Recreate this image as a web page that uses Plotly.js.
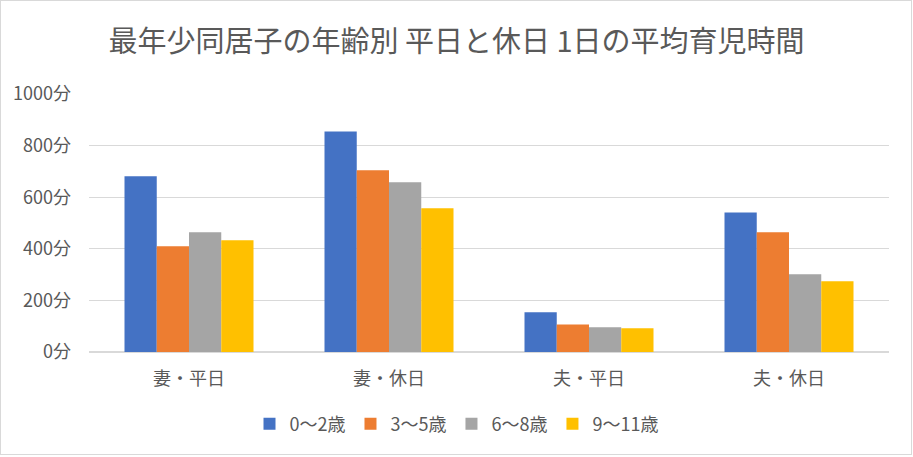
<!DOCTYPE html>
<html>
<head>
<meta charset="utf-8">
<script src="https://cdn.plot.ly/plotly-3.0.1.min.js"></script>
<style>
html,body{margin:0;padding:0;background:#fff;}
#chart{position:absolute;left:0;top:0;width:913px;height:457px;}
#frame{position:absolute;left:0;top:0;width:912px;height:455px;box-sizing:border-box;border:1px solid #D9D9D9;pointer-events:none;}
</style>
</head>
<body>
<div id="chart"></div>
<div id="frame"></div>
<script>
const categories = ["妻・平日", "妻・休日", "夫・平日", "夫・休日"];
const seriesNames = ["0〜2歳", "3〜5歳", "6〜8歳", "9〜11歳"];
const age0to2 = [681, 855, 154, 541];
const age3to5 = [410, 704, 107, 464];
const age6to8 = [464, 658, 96, 301];
const age9to11 = [433, 557, 92, 274];
const tickValues = [0, 200, 400, 600, 800, 1000];
const tickLabels = ["0分", "200分", "400分", "600分", "800分", "1000分"];

const colors = ["#4472C4", "#ED7D31", "#A5A5A5", "#FFC000"];
const allValues = [age0to2, age3to5, age6to8, age9to11];
const FONT = "'Noto Sans CJK JP', 'Noto Sans', sans-serif";

const traces = allValues.map((vals, i) => ({
  type: "bar",
  name: seriesNames[i],
  x: categories,
  y: vals,
  marker: {color: colors[i]},
  hoverinfo: "x+y+name"
}));

const layout = {
  width: 913,
  height: 457,
  margin: {l: 89, r: 24, t: 94, b: 105},
  paper_bgcolor: "#ffffff",
  plot_bgcolor: "#ffffff",
  font: {family: FONT, color: "#595959", size: 17},
  title: {
    text: "最年少同居子の年齢別 平日と休日 1日の平均育児時間",
    font: {family: FONT, size: 29, color: "#595959"},
    x: 0.5, xanchor: "center", xref: "container",
    y: 1 - 42 / 457, yanchor: "middle", yref: "container"
  },
  barmode: "group",
  bargap: 0.355,
  bargroupgap: 0,
  xaxis: {
    type: "category",
    showgrid: false,
    showline: false,
    zeroline: false,
    ticks: "",
    ticklabelstandoff: 14,
    tickfont: {family: FONT, size: 18, color: "#595959"}
  },
  yaxis: {
    range: [0, 1000],
    tickvals: tickValues,
    ticktext: tickLabels,
    showgrid: true,
    gridcolor: "#D9D9D9",
    gridwidth: 1.3,
    zeroline: true,
    zerolinecolor: "#D9D9D9",
    zerolinewidth: 1.3,
    showline: false,
    ticks: "",
    ticklabelstandoff: 17,
    tickfont: {family: FONT, size: 18, color: "#595959"}
  },
  showlegend: true,
  legend: {
    orientation: "h",
    xref: "container", yref: "container",
    x: 0.5, xanchor: "center",
    y: 1 - 424 / 457, yanchor: "middle",
    font: {family: FONT, size: 18, color: "#595959"},
    itemwidth: 30,
    traceorder: "normal"
  }
};

Plotly.newPlot("chart", traces, layout, {displayModeBar: false, staticPlot: true});
</script>
</body>
</html>
